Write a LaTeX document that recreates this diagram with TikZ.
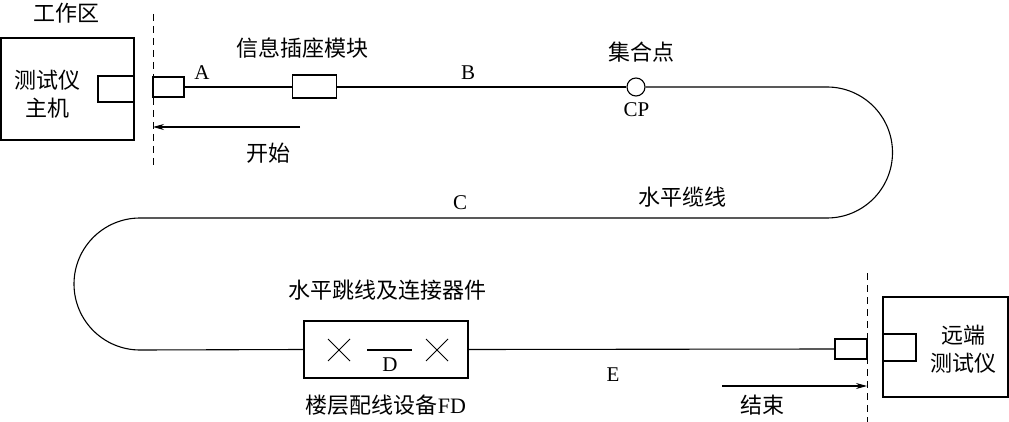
\documentclass[tikz,border=0pt]{standalone}
\usepackage{fontspec}
\setmainfont{Liberation Serif}
\newfontfamily\cjk{Noto Sans CJK SC}
\newfontfamily\latfont{Liberation Serif}
\usetikzlibrary{arrows.meta}
\begin{document}
\begin{tikzpicture}[x=1pt,y=-1pt,
  box/.style={draw,line width=1.4pt,inner sep=0pt,outer sep=0pt},
  cable/.style={line width=1.1pt},
  zh/.style={font=\cjk\fontsize{22}{28}\selectfont,inner sep=0pt,align=center},
  lat/.style={font=\latfont\fontsize{21}{24}\selectfont,inner sep=0pt},
  bound/.style={line width=1pt,dash pattern=on 7pt off 5pt},
  dirarrow/.style={line width=1.1pt,-{Stealth[length=11pt,width=6pt]}}]
\useasboundingbox (0,0) rectangle (1009,422);
% left tester
\node[box,minimum width=133pt,minimum height=102pt] (host) at (67.5,89) {};
\node[box,minimum width=36pt,minimum height=26pt] (hostport) at (116,89) {};
\node[zh] (hosttxt) at (47,94) {测试仪\\主机};
\node[zh] (work) at (66,13) {工作区};
\coordinate (dlT) at (153,14);
\coordinate (dlB) at (153,167);
\draw[bound] (dlT) -- (dlB);
% plugs and devices
\node[box,minimum width=31pt,minimum height=20pt] (plugA) at (168.5,87) {};
\node[box,minimum width=44pt,minimum height=23pt] (socket) at (314.5,86.5) {};
\node[draw,circle,line width=1.1pt,minimum size=18pt,inner sep=0pt] (cp) at (636,87) {};
\node[box,minimum width=164pt,minimum height=57pt] (fd) at (386,349.5) {};
\node[box,minimum width=32pt,minimum height=20pt] (plugE) at (851,349) {};
% right tester
\node[box,minimum width=125pt,minimum height=100pt] (remote) at (945.5,347) {};
\node[box,minimum width=33pt,minimum height=27pt] (remoteport) at (899.5,347.5) {};
\node[zh] (remotetxt) at (963,349) {远端\\测试仪};
\coordinate (drT) at (867,273);
\coordinate (drB) at (867,422);
\draw[bound] (drT) -- (drB);
% cable
\coordinate (r1) at (827,87);
\coordinate (l1) at (140,218);
\draw[cable] (plugA.east) -- (socket.west |- plugA.east);
\draw[cable] (socket.east |- cp.west) -- (cp.west);
\draw[cable] (cp.east) -- (r1) arc[start angle=-90,end angle=90,radius=65.5]
  -- (l1) arc[start angle=270,end angle=90,radius=66] -- (fd.west);
\draw[cable] (fd.east) -- (plugE.west);
% FD content
\coordinate (x1) at (339,350);
\coordinate (x2) at (437,350);
\draw[line width=1pt] ([shift={(-11,-11)}]x1) -- ([shift={(11,11)}]x1)
  ([shift={(-11,11)}]x1) -- ([shift={(11,-11)}]x1);
\draw[line width=1pt] ([shift={(-11,-11)}]x2) -- ([shift={(11,11)}]x2)
  ([shift={(-11,11)}]x2) -- ([shift={(11,-11)}]x2);
\coordinate (dL) at (367,350);
\coordinate (dR) at (412,350);
\draw[line width=1.2pt] (dL) -- (dR);
% direction arrows
\coordinate (s0) at (300,127);
\coordinate (s1) at (153,127);
\draw[dirarrow] (s0) -- (s1);
\coordinate (e0) at (722,386);
\coordinate (e1) at (867,386);
\draw[dirarrow] (e0) -- (e1);
% labels
\node[zh] (lsock) at (302,48) {信息插座模块};
\node[lat] (la) at (202,73) {A};
\node[lat] (lb) at (468,73) {B};
\node[zh] (lcp) at (641,52) {集合点};
\node[lat] (lcp2) at (636.5,110) {CP};
\node[zh] (lstart) at (268,153) {开始};
\node[zh] (lh) at (682,197) {水平缆线};
\node[lat] (lc) at (460,203) {C};
\node[zh] (ljump) at (387,290) {水平跳线及连接器件};
\node[lat] (ld) at (390,365) {D};
\node[zh] (lfd) at (386,405) {楼层配线设备{\latfont FD}};
\node[lat] (le) at (613,375) {E};
\node[zh] (lend) at (762,405) {结束};
\end{tikzpicture}
\end{document}
